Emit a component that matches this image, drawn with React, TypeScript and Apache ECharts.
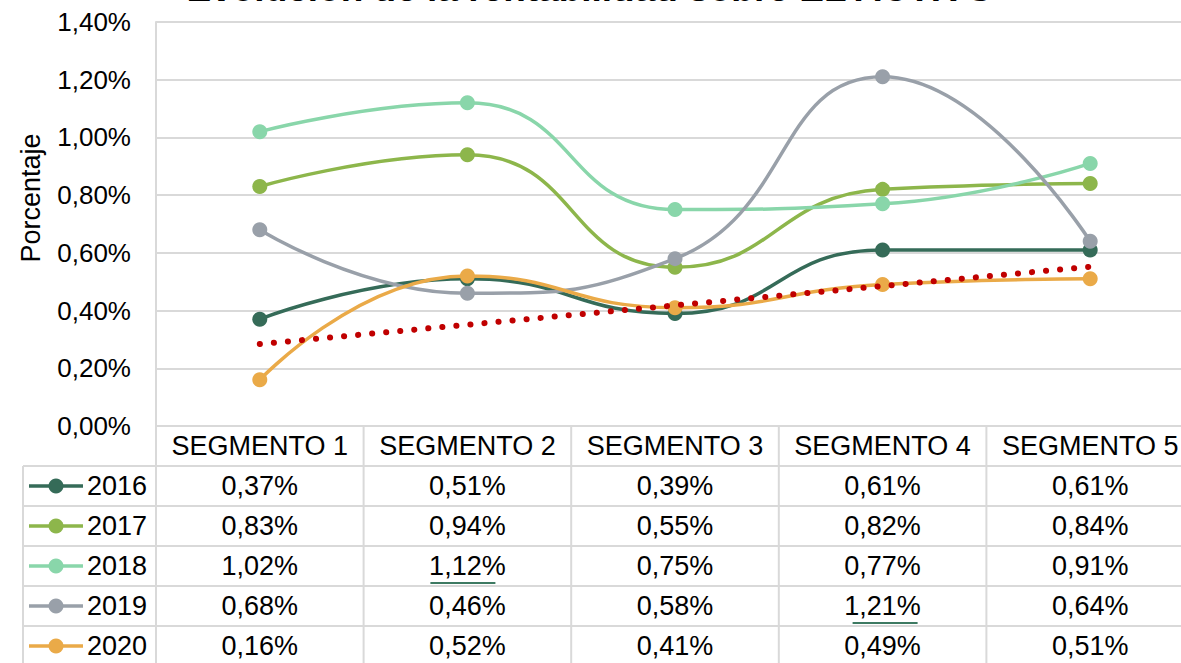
import { useEffect, useRef } from "react";
import * as echarts from "echarts";

const VIEW_W = 1181;
const W = 1194; // drawing is wider than the window: the last column is cut off, as in the reference
const H = 663;

const titleText = "Evolución de la rentabilidad sobre EL ACTIVO";
const yAxisTitle = "Porcentaje";
const categories = ["SEGMENTO 1", "SEGMENTO 2", "SEGMENTO 3", "SEGMENTO 4", "SEGMENTO 5"];
const years = ["2016", "2017", "2018", "2019", "2020"];
const v2016 = [0.37, 0.51, 0.39, 0.61, 0.61];
const v2017 = [0.83, 0.94, 0.55, 0.82, 0.84];
const v2018 = [1.02, 1.12, 0.75, 0.77, 0.91];
const v2019 = [0.68, 0.46, 0.58, 1.21, 0.64];
const v2020 = [0.16, 0.52, 0.41, 0.49, 0.51];
const seriesValues = [v2016, v2017, v2018, v2019, v2020];
const colors = ["#356B58", "#8DB64B", "#89D6AA", "#99A0A9", "#EAAA48"];
const trendColor = "#C00000";
const yMin = 0;
const yMax = 1.4;
const yStep = 0.2;
// cells that carry a small underline mark in the data table: [row, col]
const underlined = [
  [2, 1],
  [3, 3],
];
const underlineSpan: number[][] = [
  [-37, 28],
  [-30, 35],
];

const fmt = (v: number) => v.toFixed(2).replace(".", ",") + "%";

// linear trendline (least squares) of the 2020 series, as the chart shows
function linearTrend(vals: number[]) {
  const n = vals.length;
  const xs = vals.map((_, i) => i + 1);
  const mx = xs.reduce((a, b) => a + b, 0) / n;
  const my = vals.reduce((a, b) => a + b, 0) / n;
  let num = 0;
  let den = 0;
  xs.forEach((x, i) => {
    num += (x - mx) * (vals[i] - my);
    den += (x - mx) * (x - mx);
  });
  const slope = num / den;
  return xs.map((x) => my + slope * (x - mx));
}

const FONT = "'Liberation Sans', Arial, sans-serif";

export default function App() {
  const ref = useRef<HTMLDivElement>(null);
  useEffect(() => {
    if (!ref.current) return;
    const chart = echarts.init(ref.current, null, { renderer: "svg" });
    const option: any = {
      animation: false,
      backgroundColor: "#ffffff",
      grid: { left: 156, top: 22, right: 0, bottom: 237, containLabel: false },
      xAxis: {
        type: "category",
        data: categories,
        boundaryGap: true,
        axisLine: { show: true, lineStyle: { color: "#D9D9D9", width: 2 } },
        axisTick: { show: false },
        axisLabel: { show: false },
        splitLine: { show: false },
      },
      yAxis: {
        type: "value",
        min: yMin,
        max: yMax,
        interval: yStep,
        axisLine: { show: true, lineStyle: { color: "#D9D9D9", width: 2 } },
        axisTick: { show: false },
        axisLabel: {
          formatter: (v: number) => fmt(v),
          fontSize: 26,
          fontFamily: FONT,
          color: "#000000",
          margin: 25,
        },
        splitLine: { show: true, lineStyle: { color: "#D9D9D9", width: 2 } },
      },
      series: [
        ...years.map((y, i) => ({
          name: y,
          type: "line",
          data: seriesValues[i],
          smooth: 0.5,
          symbol: "circle",
          symbolSize: 15,
          lineStyle: { color: colors[i], width: 3.5 },
          itemStyle: { color: colors[i] },
          z: 2 + i,
        })),
        {
          name: "Lineal (2020)",
          type: "line",
          data: linearTrend(v2020),
          smooth: false,
          symbol: "none",
          lineStyle: { color: trendColor, width: 6, type: [0.1, 14], cap: "round" },
          z: 10,
        },
      ],
    };
    chart.setOption(option);

    const cx = categories.map((_, i) => chart.convertToPixel({ xAxisIndex: 0 }, i) as number);
    const y0 = chart.convertToPixel({ yAxisIndex: 0 }, 0) as number;
    const half = (cx[1] - cx[0]) / 2;
    const rowH = 40;
    const lineColor = "#D9D9D9";
    const tableLeft = 23;
    const fs = 27;
    const g: any[] = [];

    // title (cut off at the top of the picture)
    g.push({
      type: "text",
      x: VIEW_W / 2,
      y: 7,
      style: {
        text: titleText,
        font: `bold 37px ${FONT}`,
        fill: "#000000",
        align: "center",
        verticalAlign: "bottom",
      },
    });
    // y-axis title
    g.push({
      type: "text",
      x: 31,
      y: 198,
      rotation: Math.PI / 2,
      style: {
        text: yAxisTitle,
        font: `27px ${FONT}`,
        fill: "#000000",
        align: "center",
        verticalAlign: "middle",
      },
    });

    // table grid lines
    for (let k = 0; k <= years.length; k++) {
      const yy = y0 + rowH * (k + 1);
      g.push({
        type: "line",
        shape: { x1: tableLeft, y1: yy, x2: W, y2: yy },
        style: { stroke: lineColor, lineWidth: 2 },
      });
    }
    for (let i = 0; i <= categories.length; i++) {
      const xx = i < categories.length ? cx[i] - half : cx[categories.length - 1] + half;
      g.push({
        type: "line",
        shape: { x1: xx, y1: y0, x2: xx, y2: H },
        style: { stroke: lineColor, lineWidth: 2 },
      });
    }
    g.push({
      type: "line",
      shape: { x1: tableLeft, y1: y0 + rowH, x2: tableLeft, y2: H },
      style: { stroke: lineColor, lineWidth: 2 },
    });

    // header
    categories.forEach((c, i) => {
      g.push({
        type: "text",
        x: cx[i],
        y: y0 + rowH / 2,
        style: {
          text: c,
          font: `${fs}px ${FONT}`,
          fill: "#000000",
          align: "center",
          verticalAlign: "middle",
        },
      });
    });

    // rows
    years.forEach((yr, r) => {
      const cy = y0 + rowH * (r + 1) + rowH / 2;
      g.push({
        type: "line",
        shape: { x1: 29, y1: cy, x2: 83, y2: cy },
        style: { stroke: colors[r], lineWidth: 3.5 },
      });
      g.push({
        type: "circle",
        shape: { cx: 56, cy: cy, r: 7.5 },
        style: { fill: colors[r] },
      });
      g.push({
        type: "text",
        x: 87,
        y: cy,
        style: {
          text: yr,
          font: `${fs}px ${FONT}`,
          fill: "#000000",
          align: "left",
          verticalAlign: "middle",
        },
      });
      seriesValues[r].forEach((v, i) => {
        g.push({
          type: "text",
          x: cx[i],
          y: cy,
          style: {
            text: fmt(v),
            font: `${fs}px ${FONT}`,
            fill: "#000000",
            align: "center",
            verticalAlign: "middle",
          },
        });
      });
    });

    // small underline marks
    underlined.forEach(([r, i], k) => {
      const cy = y0 + rowH * (r + 1) + rowH / 2;
      g.push({
        type: "line",
        shape: {
          x1: cx[i] + underlineSpan[k][0],
          y1: cy + 17,
          x2: cx[i] + underlineSpan[k][1],
          y2: cy + 17,
        },
        style: { stroke: "#3D7A62", lineWidth: 2 },
      });
    });

    chart.setOption({ graphic: g });

    return () => chart.dispose();
  }, []);

  return (
    <div
      ref={ref}
      style={{ position: "fixed", left: 0, top: 0, width: W, height: H, background: "#fff" }}
    />
  );
}
